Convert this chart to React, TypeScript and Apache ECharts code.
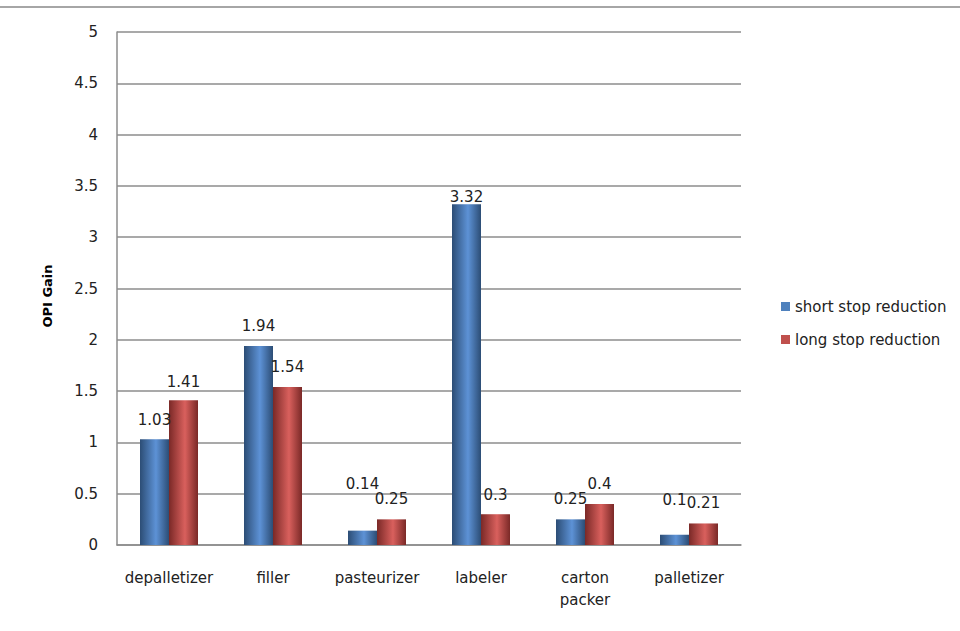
import React, { useEffect, useRef } from "react";
import * as echarts from "echarts";

const categories = ["depalletizer", "filler", "pasteurizer", "labeler", "carton\npacker", "palletizer"];
const shortStop = [1.03, 1.94, 0.14, 3.32, 0.25, 0.1];
const longStop = [1.41, 1.54, 0.25, 0.3, 0.4, 0.21];
const seriesNames = ["short stop reduction", "long stop reduction"];
const yAxisName = "OPI Gain";

const FONT = "'DejaVu Sans', sans-serif";

// label gap above bars, as placed in the original
const shortLabelGap = [12, 12, 39, 0, 13, 27];
const longLabelGap = [11, 12, 13, 12, 12, 13];

function grad(dark: string, light: string) {
  return new echarts.graphic.LinearGradient(0, 0, 1, 0, [
    { offset: 0, color: dark },
    { offset: 0.55, color: light },
    { offset: 1, color: dark },
  ]);
}

export default function App() {
  const ref = useRef<HTMLDivElement>(null);
  useEffect(() => {
    if (!ref.current) return;
    const chart = echarts.init(ref.current, undefined, { renderer: "svg" });
    const mk = (vals: number[], gaps: number[]) =>
      vals.map((v, i) => ({ value: v, label: { distance: gaps[i] } }));
    const labelStyle = { show: true, position: "top", fontSize: 15, color: "#222", fontFamily: FONT };
    chart.setOption({
      animation: false,
      backgroundColor: "#ffffff",
      textStyle: { fontFamily: FONT },
      graphic: [
        {
          type: "line",
          shape: { x1: 0, y1: 7, x2: 960, y2: 7 },
          style: { stroke: "#a6a6a6", lineWidth: 2 },
        },
        {
          type: "text",
          x: 47,
          y: 296,
          rotation: Math.PI / 2,
          style: {
            text: yAxisName,
            fontFamily: FONT,
            fontWeight: "bold",
            fontSize: 13,
            fill: "#000",
            align: "center",
            verticalAlign: "middle",
          },
        },
      ],
      grid: { left: 117, right: 219, top: 32, bottom: 86, containLabel: false },
      legend: {
        orient: "vertical",
        left: 776,
        top: 294,
        itemWidth: 9,
        itemHeight: 9,
        itemGap: 18,
        icon: "rect",
        textStyle: { fontSize: 15, color: "#222", fontFamily: FONT },
        data: [
          { name: seriesNames[0], itemStyle: { color: "#4f81bd" } },
          { name: seriesNames[1], itemStyle: { color: "#c0504d" } },
        ],
      },
      xAxis: {
        type: "category",
        data: categories,
        axisLine: { show: true, lineStyle: { color: "#8c8c8c", width: 1.5 } },
        axisTick: { show: false },
        axisLabel: { interval: 0, fontSize: 15, color: "#222", margin: 22, lineHeight: 22, fontFamily: FONT },
      },
      yAxis: {
        type: "value",
        min: 0,
        max: 5,
        interval: 0.5,
        axisLine: { show: true, lineStyle: { color: "#8c8c8c", width: 1.5 } },
        axisTick: { show: false },
        axisLabel: { fontSize: 15, color: "#222", margin: 19, fontFamily: FONT },
        splitLine: { show: true, lineStyle: { color: "#8c8c8c", width: 1.5 } },
      },
      series: [
        {
          name: seriesNames[0],
          type: "bar",
          data: mk(shortStop, shortLabelGap),
          barWidth: 29,
          barGap: "0%",
          itemStyle: { color: grad("#2c4d75", "#5d92d6") },
          label: labelStyle,
        },
        {
          name: seriesNames[1],
          type: "bar",
          data: mk(longStop, longLabelGap),
          barWidth: 29,
          barGap: "0%",
          itemStyle: { color: grad("#7a2927", "#d9605d") },
          label: labelStyle,
        },
      ],
    });
    return () => chart.dispose();
  }, []);
  return <div ref={ref} style={{ position: "fixed", left: 0, top: 0, width: 960, height: 631 }} />;
}
